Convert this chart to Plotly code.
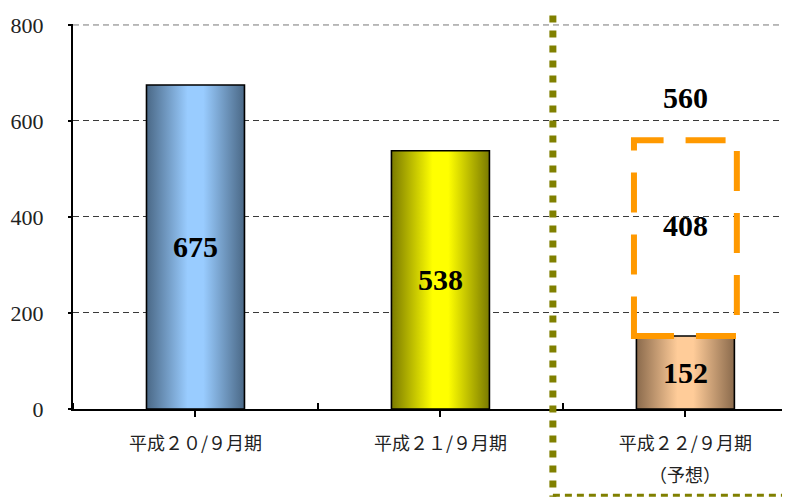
import plotly.graph_objects as go

categories = ["平成２０/９月期", "平成２１/９月期", "平成２２/９月期"]
forecast_note = "（予想）"
actual_values = [675, 538, 152]
forecast_total = 560
forecast_remaining = 408  # = 560 - 152
y_ticks = [0, 200, 400, 600, 800]

dark_colors = ["#4a6886", "#7a7a00", "#8a6a4c"]
light_colors = ["#99ccff", "#ffff00", "#ffcc99"]

BAR_HALF = 0.2
fig = go.Figure()

for i, v in enumerate(actual_values):
    fig.add_trace(go.Scatter(
        x=[i - BAR_HALF, i - BAR_HALF, i + BAR_HALF, i + BAR_HALF, i - BAR_HALF],
        y=[0, v, v, 0, 0],
        mode="lines",
        fill="toself",
        fillgradient=dict(
            type="horizontal",
            colorscale=[[0, dark_colors[i]], [0.42, light_colors[i]],
                        [0.58, light_colors[i]], [1, dark_colors[i]]],
        ),
        line=dict(color="black", width=1.6),
        hoverinfo="skip",
        showlegend=False,
    ))

label_font = dict(family="Liberation Serif, Times New Roman, serif", size=30, color="black")
for i, v in enumerate(actual_values):
    fig.add_annotation(x=i, y=v / 2, text=f"<b>{v}</b>", showarrow=False, font=label_font)

# forecast annotations
fig.add_annotation(x=2, y=actual_values[2] + forecast_remaining / 2, text=f"<b>{forecast_remaining}</b>",
                   showarrow=False, font=label_font, yshift=13)
fig.add_annotation(x=2, y=forecast_total, text=f"<b>{forecast_total}</b>",
                   showarrow=False, font=label_font, yshift=43)

# top gridline (at the edge of the plot area)
fig.add_shape(type="line", xref="paper", yref="y", x0=0, x1=1, y0=y_ticks[-1], y1=y_ticks[-1],
              line=dict(color="#777777", width=1, dash="6px,4px"), layer="below")

# orange dashed forecast box
fig.add_shape(type="rect", xref="x", yref="y",
              x0=2 - BAR_HALF - 0.01, x1=2 + BAR_HALF + 0.01,
              y0=actual_values[2], y1=forecast_total,
              line=dict(color="#ff9900", width=6, dash="40px,22px"),
              fillcolor="rgba(0,0,0,0)", layer="above")

# olive dotted frame around forecast area
fig.add_shape(type="line", xref="x", yref="paper", x0=1.459, x1=1.459, y0=1.1, y1=-0.228,
              line=dict(color="#808000", width=7, dash="7px,8px"), layer="above")
fig.add_shape(type="line", xref="x", yref="paper", x0=1.459, x1=2.418, y0=-0.224, y1=-0.224,
              line=dict(color="#808000", width=3, dash="7px,5px"), layer="above")
fig.add_shape(type="line", xref="x", yref="paper", x0=2.418, x1=2.418, y0=1.1, y1=-0.224,
              line=dict(color="#808000", width=3, dash="7px,5px"), layer="above")

# forecast note under third category
fig.add_annotation(x=2, y=-0.1745, xref="x", yref="paper", text=forecast_note, showarrow=False,
                   yshift=-13,
                   font=dict(family="Noto Sans CJK JP", size=18, color="#222222"))

fig.update_layout(
    width=782, height=489,
    margin=dict(l=65, r=0, t=16, b=88),
    plot_bgcolor="white", paper_bgcolor="white",
    xaxis=dict(
        range=[-0.5, 2.427],
        tickmode="array",
        tickvals=list(range(len(categories))),
        ticktext=categories,
        ticks="outside", ticklen=6, tickwidth=1.5, tickcolor="black",
        minor=dict(tick0=0.5, dtick=1, ticks="inside", ticklen=6, tickwidth=1.5, tickcolor="black"),
        showline=True, linecolor="black", linewidth=1.6,
        showgrid=False, zeroline=False,
        tickfont=dict(family="Noto Sans CJK JP", size=18, color="#222222"),
        ticklabelstandoff=12,
        fixedrange=True,
    ),
    yaxis=dict(
        range=[0, 802],
        tickvals=y_ticks,
        ticks="outside", ticklen=3, tickwidth=2, tickcolor="black",
        showline=True, linecolor="black", linewidth=2,
        showgrid=True, gridcolor="#3a3a3a", gridwidth=1, griddash="6px,4px",
        zeroline=False,
        tickfont=dict(family="Liberation Serif, Times New Roman, serif", size=22, color="#222222"),
        ticklabelstandoff=20,
        fixedrange=True,
    ),
)

fig.write_html("out.html")
